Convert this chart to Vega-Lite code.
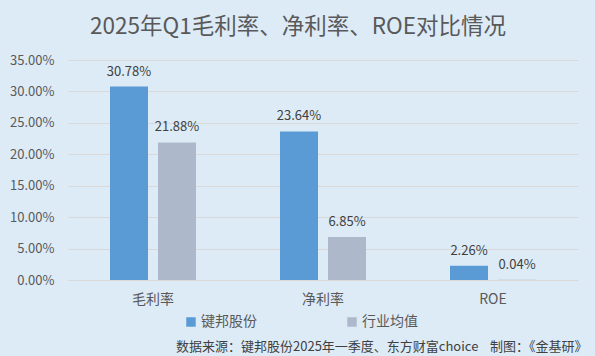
{
  "$schema": "https://vega.github.io/schema/vega-lite/v6.json",
  "autosize": "none",
  "width": 510,
  "height": 220,
  "padding": {"left": 68, "top": 60, "right": 17, "bottom": 76},
  "background": "#DDEBF7",
  "title": {
    "text": "2025年Q1毛利率、净利率、ROE对比情况",
    "font": "Noto Sans CJK SC",
    "fontSize": 22.5,
    "fontWeight": "normal",
    "color": "#595959",
    "anchor": "middle",
    "dx": -25,
    "offset": 16
  },
  "config": {
    "view": {"stroke": null},
    "font": "Noto Sans CJK SC"
  },
  "data": {
    "values": [
      {"指标": "毛利率", "主体": "键邦股份", "值": 0.3078},
      {"指标": "毛利率", "主体": "行业均值", "值": 0.2188},
      {"指标": "净利率", "主体": "键邦股份", "值": 0.2364},
      {"指标": "净利率", "主体": "行业均值", "值": 0.0685},
      {"指标": "ROE", "主体": "键邦股份", "值": 0.0226},
      {"指标": "ROE", "主体": "行业均值", "值": 0.0004}
    ]
  },
  "encoding": {
    "x": {
      "field": "指标",
      "type": "nominal",
      "sort": ["毛利率", "净利率", "ROE"],
      "scale": {"paddingInner": 0, "paddingOuter": 0},
      "axis": {
        "title": "数据来源：键邦股份2025年一季度、东方财富choice\u00a0\u00a0\u00a0\u00a0制图：《金基研》",
        "titleFont": "Noto Sans CJK SC",
        "titleFontSize": 13,
        "titleFontWeight": "normal",
        "titleColor": "#404040",
        "titleAnchor": "end",
        "titleAlign": "right",
        "titleX": 519,
        "titlePadding": 34,
        "labelAngle": 0,
        "labelFontSize": 14,
        "labelColor": "#595959",
        "labelPadding": 12,
        "ticks": false,
        "domainColor": "#D9D9D9",
        "domainWidth": 1
      }
    },
    "xOffset": {
      "field": "主体",
      "type": "nominal",
      "sort": ["键邦股份", "行业均值"],
      "scale": {"paddingInner": 0.2083, "paddingOuter": 0.875}
    },
    "y": {
      "field": "值",
      "type": "quantitative",
      "scale": {"domain": [0, 0.35]},
      "axis": {
        "title": null,
        "format": ".2%",
        "values": [0, 0.05, 0.1, 0.15, 0.2, 0.25, 0.3, 0.35],
        "labelFontSize": 13,
        "labelColor": "#595959",
        "labelPadding": 14,
        "ticks": false,
        "domain": false,
        "gridColor": "#D9D9D9",
        "gridWidth": 1
      }
    }
  },
  "layer": [
    {
      "mark": {"type": "bar"},
      "encoding": {
        "color": {
          "field": "主体",
          "type": "nominal",
          "sort": ["键邦股份", "行业均值"],
          "scale": {"range": ["#5B9BD5", "#ADB9CA"]},
          "legend": {
            "title": null,
            "orient": "none",
            "direction": "horizontal",
            "legendX": 116,
            "legendY": 255,
            "symbolType": "square",
            "symbolSize": 90,
            "symbolStrokeWidth": 0,
            "labelFontSize": 14,
            "labelColor": "#595959",
            "labelOffset": 3,
            "columnPadding": 88
          }
        }
      }
    },
    {
      "mark": {"type": "text", "baseline": "bottom", "dy": -8, "fontSize": 13, "color": "#404040"},
      "encoding": {
        "text": {"field": "值", "type": "quantitative", "format": ".2%"}
      }
    }
  ]
}
